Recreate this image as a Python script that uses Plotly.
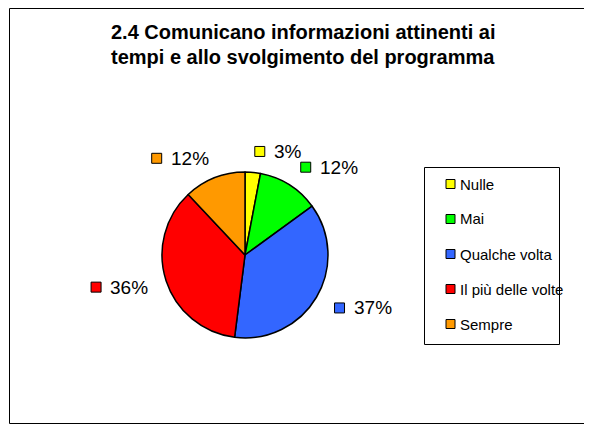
import math
import plotly.graph_objects as go

# ---- data ----
categories = ["Nulle", "Mai", "Qualche volta", "Il più delle volte", "Sempre"]
values = [3, 12, 37, 36, 12]
colors = ["#FFFF00", "#00FF00", "#3366FF", "#FF0000", "#FF9900"]
title_lines = ["2.4 Comunicano informazioni attinenti ai",
               "tempi e allo svolgimento del programma"]

# ---- layout constants (page pixels) ----
PAGE_W, PAGE_H = 592, 425
OFF = 8  # default body margin of the html page
W, H = PAGE_W - OFF, PAGE_H - OFF
PIE_CX, PIE_CY, PIE_R = 245, 255, 83
FONT = "Liberation Sans, Arial, sans-serif"
LABEL_FS = 19
LEGEND_FS = 15
TITLE_FS = 20


def px(x):
    return (x - OFF) / W


def py(y):
    return 1 - (y - OFF) / H


def text_width(s, fs):
    return sum(0.889 if ch == "%" else 0.556 for ch in s) * fs


fig = go.Figure(
    go.Pie(
        labels=categories,
        values=values,
        marker=dict(colors=colors, line=dict(color="black", width=1.5)),
        sort=False,
        direction="clockwise",
        rotation=0,
        textinfo="none",
        hoverinfo="label+percent",
        showlegend=False,
        domain=dict(
            x=[px(PIE_CX - PIE_R), px(PIE_CX + PIE_R)],
            y=[py(PIE_CY + PIE_R), py(PIE_CY - PIE_R)],
        ),
    )
)

shapes = []
annotations = []


def rect(x0, y0, x1, y1, fill, lw=1):
    return dict(
        type="rect", xref="paper", yref="paper",
        x0=px(x0), x1=px(x1), y0=py(y1), y1=py(y0),
        fillcolor=fill, line=dict(color="black", width=lw), layer="above",
    )


# outer chart border
shapes.append(dict(type="rect", xref="paper", yref="paper",
                   x0=px(9.5), x1=px(600), y0=py(423.5), y1=py(8.5),
                   fillcolor="rgba(0,0,0,0)", line=dict(color="black", width=1),
                   layer="below"))

# data labels with coloured keys
total = sum(values)
cum = 0
for v, c in zip(values, colors):
    mid = (cum + v / 2) / total * 2 * math.pi
    cum += v
    dx, dy = math.sin(mid), -math.cos(mid)
    label = f"{round(v / total * 100)}%"
    tw = text_width(label, LABEL_FS)
    sq, gap = 10, 7
    w = sq + gap + tw
    D = 104
    cx = PIE_CX + dx * D + (1 if dx >= 0 else -1) * w / 2
    cy = PIE_CY + dy * D
    left = cx - w / 2
    shapes.append(rect(left, cy - sq / 2, left + sq, cy + sq / 2, c))
    annotations.append(dict(
        x=px(left + sq + gap), y=py(cy), xref="paper", yref="paper",
        text=label, showarrow=False, xanchor="left", yanchor="middle",
        font=dict(family=FONT, size=LABEL_FS, color="black"),
    ))

# legend box
LEG_L, LEG_T, LEG_R, LEG_B = 424, 167, 559, 344
shapes.append(dict(type="rect", xref="paper", yref="paper",
                   x0=px(LEG_L + 0.5), x1=px(LEG_R + 0.5), y0=py(LEG_B + 0.5), y1=py(LEG_T + 0.5),
                   fillcolor="white", line=dict(color="black", width=1), layer="below"))
for i, (cat, c) in enumerate(zip(categories, colors)):
    yc = 184 + i * 35
    shapes.append(rect(446, yc - 4.5, 455, yc + 4.5, c))
    annotations.append(dict(
        x=px(458), y=py(yc), xref="paper", yref="paper",
        text=cat, showarrow=False, xanchor="left", yanchor="middle",
        font=dict(family=FONT, size=LEGEND_FS, color="black"),
    ))

# title (two lines)
for i, line in enumerate(title_lines):
    annotations.append(dict(
        x=px(303), y=py(32 + i * 25), xref="paper", yref="paper",
        text="<b>" + line + "</b>", showarrow=False,
        xanchor="center", yanchor="middle", align="center",
        font=dict(family=FONT, size=TITLE_FS, color="black"),
    ))

fig.update_layout(
    width=W, height=H,
    margin=dict(l=0, r=0, t=0, b=0),
    paper_bgcolor="white", plot_bgcolor="white",
    shapes=shapes, annotations=annotations,
    showlegend=False,
)

fig.write_html("out.html")
